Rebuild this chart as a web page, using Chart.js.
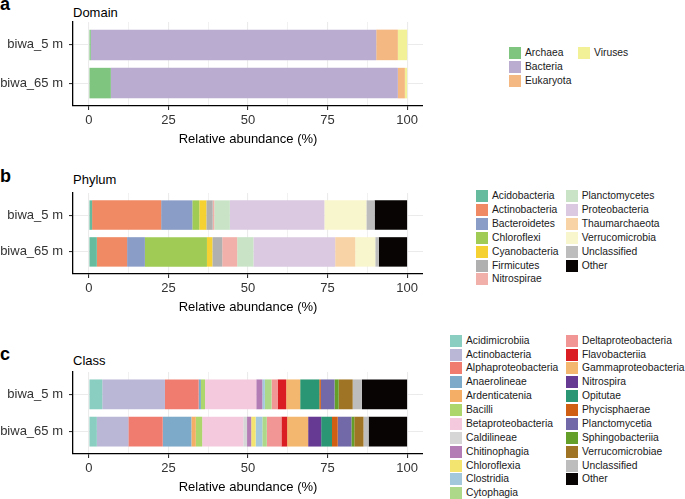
<!DOCTYPE html>
<html lang="en">
<head>
<meta charset="UTF-8">
<title>Relative abundance</title>
<script src="https://cdn.jsdelivr.net/npm/chart.js"></script>
<style>
    body { margin: 0; background: #fff; font-family: "Liberation Sans", Arial, Helvetica, sans-serif; }
    #page { position: relative; width: 685px; height: 499px; overflow: hidden; }
    canvas { position: absolute; left: 0; }
    .tag { position: absolute; left: 0; font-size: 18px; font-weight: bold; line-height: 18px; color: #000; }
    .ptitle { position: absolute; left: 73px; font-size: 13px; line-height: 13px; color: #000; }
    .key { position: absolute; font-size: 10.3px; line-height: 12px; color: #1a1a1a; white-space: nowrap; }
    .key span { position: absolute; left: 0; top: 0; width: 12px; height: 12px; }
    .key em { font-style: normal; position: absolute; left: 16px; top: 0; }
</style>
</head>
<body>
<div id="page">
    <div class="tag" style="top:-5px">a</div>
    <div class="ptitle" style="top:6px">Domain</div>
    <canvas id="domainChart" width="423" height="147" style="top:0px"></canvas>

    <div class="tag" style="top:167px">b</div>
    <div class="ptitle" style="top:173px">Phylum</div>
    <canvas id="phylumChart" width="423" height="165" style="top:150px"></canvas>

    <div class="tag" style="top:345px">c</div>
    <div class="ptitle" style="top:354px">Class</div>
    <canvas id="classChart" width="423" height="165" style="top:330px"></canvas>
</div>
<script>
    // samples and axis breaks
    const samples = ['biwa_5 m', 'biwa_65 m'];
    const xBreaks = [0, 12.5, 25, 37.5, 50, 62.5, 75, 87.5, 100];

    // Domain
    const domainNames = ['Archaea', 'Bacteria', 'Eukaryota', 'Viruses'];
    const domainColors = ['#7fc47f', '#baacd0', '#f4b882', '#f3f197'];
    const domain5m = [0.6, 89.7, 6.8, 2.9];
    const domain65m = [6.9, 90.2, 2.2, 0.7];

    // Phylum
    const phylumNames = ['Acidobacteria', 'Actinobacteria', 'Bacteroidetes', 'Chloroflexi', 'Cyanobacteria',
        'Firmicutes', 'Nitrospirae', 'Planctomycetes', 'Proteobacteria', 'Thaumarchaeota',
        'Verrucomicrobia', 'Unclassified', 'Other'];
    const phylumColors = ['#66bb9f', '#f08a64', '#8a9dc6', '#a0cb55', '#f5d232', '#b0b0b0', '#f2b0aa',
        '#c8e3c6', '#dac9e1', '#f8d3a5', '#f8f6cd', '#bdbdbd', '#080404'];
    const phylum5m = [1.0, 21.7, 9.8, 2.2, 2.2, 2.0, 0.5, 4.9, 29.7, 0, 13.2, 2.6, 10.2];
    const phylum65m = [2.5, 9.5, 5.6, 19.5, 1.7, 3.1, 4.7, 5.1, 25.7, 6.3, 6.3, 1.1, 8.9];

    // Class
    const classNames = ['Acidimicrobiia', 'Actinobacteria', 'Alphaproteobacteria', 'Anaerolineae', 'Ardenticatenia',
        'Bacilli', 'Betaproteobacteria', 'Caldilineae', 'Chitinophagia', 'Chloroflexia', 'Clostridia',
        'Cytophagia', 'Deltaproteobacteria', 'Flavobacteriia', 'Gammaproteobacteria', 'Nitrospira',
        'Opitutae', 'Phycisphaerae', 'Planctomycetia', 'Sphingobacteriia', 'Verrucomicrobiae',
        'Unclassified', 'Other'];
    const classColors = ['#8acdc1', '#b9b6d6', '#f07c70', '#7daac9', '#f4ae66', '#add66c', '#f4c9de', '#d6d6d6',
        '#b37cb4', '#f3e46f', '#a3c8dc', '#add88a', '#f19695', '#d91d22', '#f4b76f', '#663a93',
        '#2a9673', '#d05f14', '#7169a8', '#649f2a', '#a07425', '#bdbdbd', '#080404'];
    const class5m = [4.2, 19.7, 10.6, 0.7, 0, 1.3, 16.1, 0, 1.9, 0, 0.8, 2.1, 1.9, 2.7, 4.4, 0, 6.0, 0.5,
        4.3, 1.3, 4.4, 2.9, 14.2];
    const class65m = [2.5, 9.9, 10.8, 9.0, 1.4, 2.0, 12.9, 1.2, 1.3, 1.4, 2.1, 1.4, 4.6, 1.8, 6.6, 4.1, 3.4, 1.8,
        4.3, 0.9, 2.9, 1.6, 12.1];

    Chart.defaults.font.family = '"Liberation Sans", Arial, Helvetica, sans-serif';

    function makePanel(id, names, colors, values, padTop) {
        const datasets = names.map((name, i) => ({
            label: name,
            data: values.map((v, j) => ({ x: v[i], y: j })),
            backgroundColor: colors[i],
            borderWidth: 0,
            categoryPercentage: 1,
            barPercentage: 0.8
        }));

        new Chart(document.getElementById(id), {
            type: 'bar',
            data: { datasets: datasets },
            options: {
                indexAxis: 'y',
                responsive: false,
                animation: false,
                layout: { padding: { top: padTop, left: 0, right: 0, bottom: 0 } },
                plugins: { legend: { display: false }, tooltip: { enabled: false } },
                scales: {
                    x: {
                        type: 'linear', stacked: true, min: -5, max: 105,
                        afterBuildTicks: s => { s.ticks = xBreaks.map(v => ({ value: v })); },
                        afterFit: s => { s.height = 41; },
                        grid: {
                            color: '#ebebeb',
                            lineWidth: c => (c.tick && c.tick.value % 25 === 0) ? 1.1 : 0.7,
                            tickLength: 4,
                            tickColor: c => (c.tick && c.tick.value % 25 === 0) ? '#333' : 'rgba(0,0,0,0)'
                        },
                        border: { display: true, color: '#000', width: 1.3 },
                        ticks: {
                            autoSkip: false, maxRotation: 0, padding: 2.5, color: '#333',
                            font: { size: 13 },
                            callback: v => v % 25 === 0 ? String(v) : ''
                        },
                        title: {
                            display: true, text: 'Relative abundance (%)', color: '#000',
                            font: { size: 13 }, padding: 0
                        }
                    },
                    y: {
                        type: 'linear', stacked: true, reverse: true, min: -0.6, max: 1.6,
                        offset: false,
                        afterBuildTicks: s => { s.ticks = [0, 1].map(v => ({ value: v })); },
                        afterFit: s => { s.width = 73; },
                        grid: { offset: false, color: '#ebebeb', lineWidth: 1.1, tickLength: 4, tickColor: '#333' },
                        border: { display: true, color: '#000', width: 1.3 },
                        ticks: {
                            padding: 6, color: '#333', font: { size: 13 },
                            callback: v => samples[v]
                        }
                    }
                }
            }
        });
    }

    // ggplot-style legend, filled column by column
    function makeKey(names, colors, left0, left1, firstY, pitch, rows) {
        const page = document.getElementById('page');
        names.forEach((name, i) => {
            const col = Math.floor(i / rows);
            const row = i % rows;
            const item = document.createElement('div');
            item.className = 'key';
            item.style.left = (col === 0 ? left0 : left1) + 'px';
            item.style.top = (firstY + row * pitch - 6) + 'px';
            item.innerHTML = '<span style="background:' + colors[i] + '"></span><em></em>';
            item.querySelector('em').textContent = name;
            page.appendChild(item);
        });
    }

    makePanel('domainChart', domainNames, domainColors, [domain5m, domain65m], 22);
    makePanel('phylumChart', phylumNames, phylumColors, [phylum5m, phylum65m], 43);
    makePanel('classChart', classNames, classColors, [class5m, class65m], 42);

    makeKey(domainNames, domainColors, 509, 578, 53.2, 13.9, 3);
    makeKey(phylumNames, phylumColors, 476, 565.7, 196, 13.9, 7);
    makeKey(classNames, classColors, 450, 566, 340.7, 13.87, 12);
</script>
</body>
</html>
